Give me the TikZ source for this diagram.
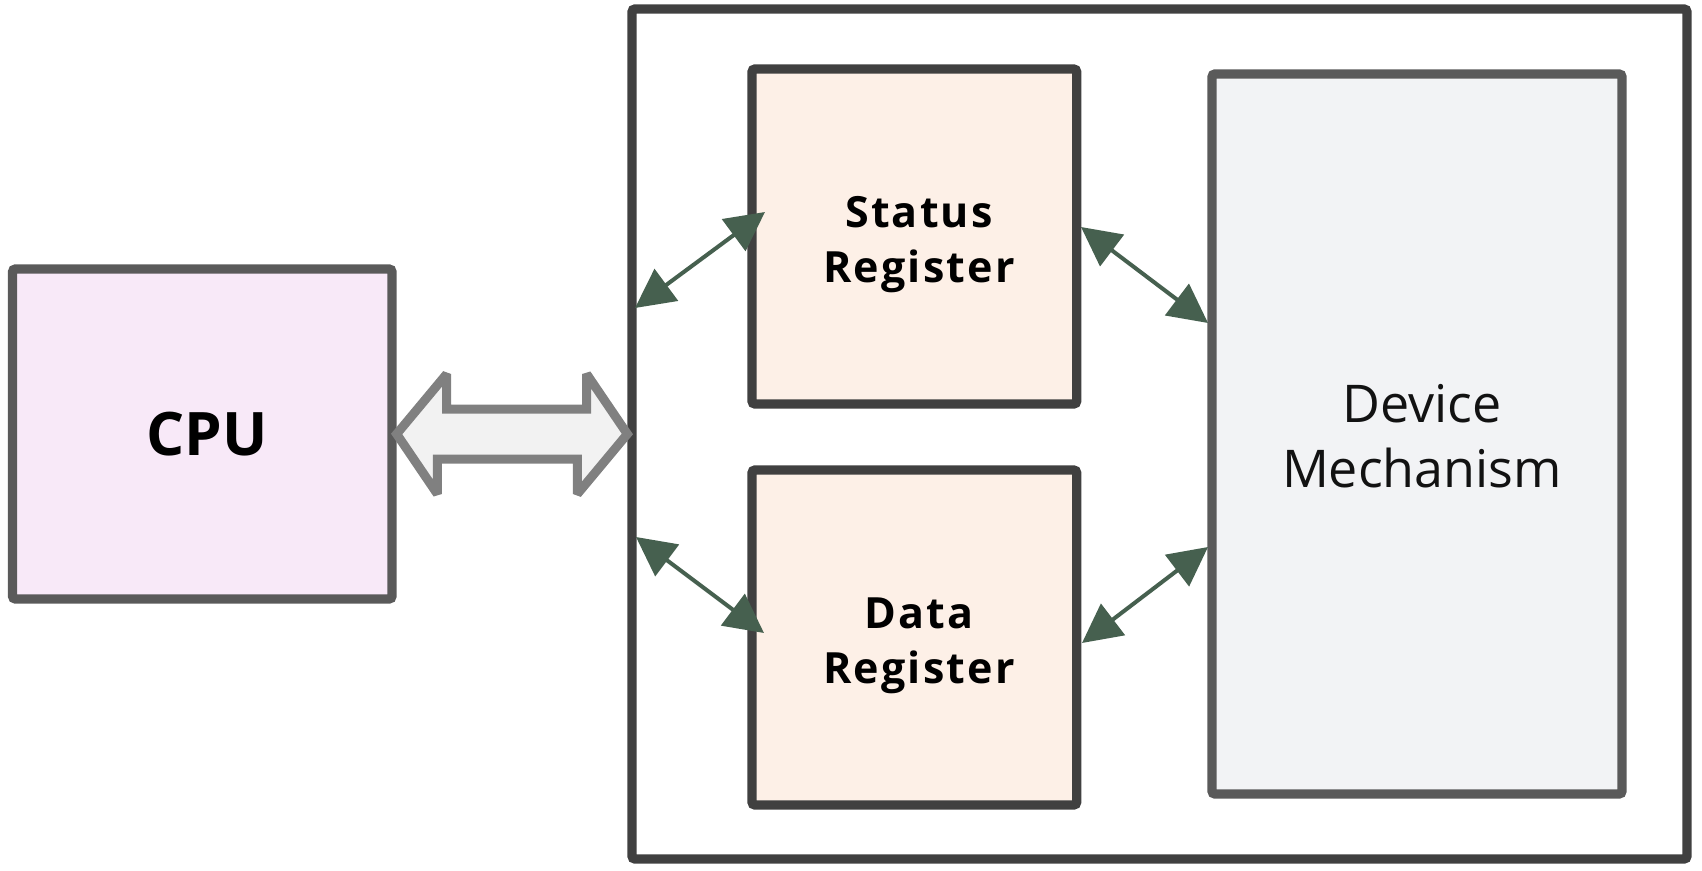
\documentclass[tikz,border=0pt]{standalone}
\usepackage{fontspec}
\setmainfont{Open Sans}
\usetikzlibrary{arrows.meta,calc}
\definecolor{outerc}{HTML}{404040}
\definecolor{softc}{HTML}{5A5A5A}
\definecolor{cpufill}{HTML}{F8E9F8}
\definecolor{regfill}{HTML}{FDF0E7}
\definecolor{devfill}{HTML}{F2F3F5}
\definecolor{linkc}{HTML}{46604F}
\definecolor{busline}{HTML}{808080}
\definecolor{busfill}{HTML}{F2F2F2}
\begin{document}
\begin{tikzpicture}[x=1pt,y=-1pt,
 box/.style={draw, rectangle, rounded corners=3pt, line width=9.3pt, inner sep=0pt},
 link/.style={draw=linkc, line width=4pt, {Triangle[length=39pt,width=39pt]}-{Triangle[length=39pt,width=39pt]}},
 bus/.style={draw=busline, fill=busfill, line width=9pt, line join=miter, miter limit=2},
 cputext/.style={font=\fontsize{60}{70}\bfseries},
 regtext/.style={align=center, font=\fontsize{43}{55}\bfseries\addfontfeatures{LetterSpace=5}},
 devtext/.style={align=center, font=\fontsize{52}{65}\selectfont, text=black!93}]
\useasboundingbox (0,0) rectangle (1702,870);
\node[box, draw=outerc, fill=white, minimum width=1055pt, minimum height=850pt] (outer) at (1159.5,434) {};
\node[box, draw=outerc, fill=regfill, minimum width=324.7pt, minimum height=335pt] (status) at (914.35,236.5) {};
\node[box, draw=outerc, fill=regfill, minimum width=324.7pt, minimum height=335pt] (data) at (914.35,637.5) {};
\node[box, draw=softc, fill=devfill, minimum width=410pt, minimum height=720pt] (device) at (1417,434) {};
\node[box, draw=softc, fill=cpufill, minimum width=379.5pt, minimum height=330pt] (cpu) at (202.25,434) {};
\node[cputext] (cpulabel) at (207,434) {CPU};
\node[regtext] (statuslabel) at (919,245) {Status\\Register};
\node[regtext] (datalabel) at (919,646) {Data\\Register};
\node[devtext] (devlabel) at (1422,436) {Device\\Mechanism};
\draw[bus] (cpu.east) -- ++(50,-60) -- ++(0,35) -- ++(140,0) -- ++(0,-35) -- (outer.west)
  -- ++(-50,60) -- ++(0,-35) -- ++(-140,0) -- ++(0,35) -- cycle;
\coordinate (s1) at (635,308);
\coordinate (s2) at (765,212);
\coordinate (s3) at (1081,227);
\coordinate (s4) at (1208,323);
\coordinate (d1) at (636,537);
\coordinate (d2) at (764,633);
\coordinate (d3) at (1082,643);
\coordinate (d4) at (1208,547);
\draw[link] (s1) -- (s2);
\draw[link] (s3) -- (s4);
\draw[link] (d1) -- (d2);
\draw[link] (d3) -- (d4);
\end{tikzpicture}
\end{document}
